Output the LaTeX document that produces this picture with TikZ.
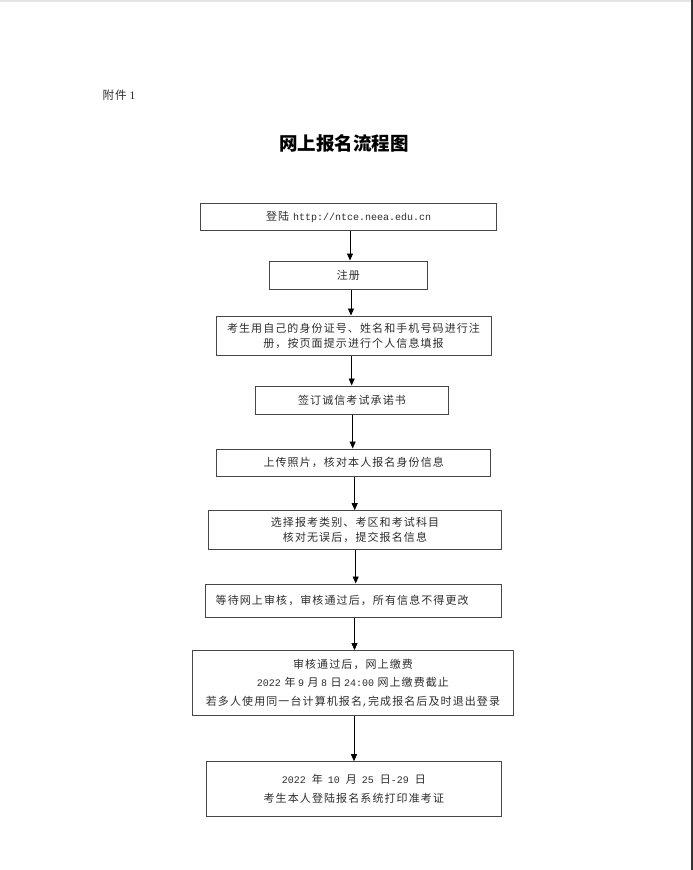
\documentclass[tikz,border=0pt]{standalone}
\usepackage{fontspec}
\setmainfont{Liberation Serif}
\newfontfamily\cjk[LetterSpace=10]{Noto Sans CJK SC}
\newfontfamily\cjkt{Noto Sans CJK SC}
\newfontfamily\lat{Liberation Mono}
\usetikzlibrary{arrows.meta}
\newcommand\zhs[1]{{\cjk #1}}
\newcommand\lts[1]{{\lat\fontsize{10}{12}\selectfont #1}}
\newcommand\gp[1]{\hspace{#1pt}}
\definecolor{boxc}{RGB}{70,70,70}
\definecolor{txt}{RGB}{45,45,45}
\begin{document}
\begin{tikzpicture}[x=1pt,y=-1pt,
  box/.style={draw=boxc, line width=1pt, inner sep=0pt, align=center, text=txt, font=\fontsize{11}{15}\selectfont},
  arr/.style={-{Triangle[width=6pt,length=7pt]}, line width=0.9pt, draw=black}]
\fill[white] (0,0) rectangle (693,870);
\useasboundingbox (0,0) rectangle (693,870);
\fill[black!10] (0,0) rectangle (691,1.5);
\fill[black!80] (691.3,0) rectangle (693,870);

\node[anchor=west, text=txt, font=\fontsize{11.5}{14}\selectfont] (hdr) at (99,95) {\zhs{附件}\gp{3}1};
\node[font=\cjkt\bfseries\fontsize{18.5}{20}\selectfont] (title) at (344,143) {网上报名流程图};

\node[box, minimum width=296pt, minimum height=27pt] (b1) at (348.7,216.5) {\zhs{登陆}\gp{4}\lts{http://ntce.neea.edu.cn}};
\node[box, minimum width=158pt, minimum height=28pt] (b2) at (348.3,275) {\zhs{注册}};
\node[box, minimum width=275pt, minimum height=39pt] (b3) at (353.5,335.5) {\zhs{考生用自己的身份证号、姓名和手机号码进行注}\\\zhs{册，按页面提示进行个人信息填报}};
\node[box, minimum width=193.4pt, minimum height=28pt] (b4) at (352,400) {\zhs{签订诚信考试承诺书}};
\node[box, minimum width=274pt, minimum height=27pt] (b5) at (353.7,462.5) {\zhs{上传照片，核对本人报名身份信息}};
\node[box, minimum width=293.4pt, minimum height=38.6pt] (b6) at (355,530) {\zhs{选择报考类别、考区和考试科目}\\\zhs{核对无误后，提交报名信息}};
\node[box, minimum width=296pt, minimum height=33pt, text width=276pt, align=left] (b7) at (353.7,600.5) {\zhs{等待网上审核，审核通过后，所有信息不得更改}};
\node[box, minimum width=320.6pt, minimum height=64.8pt, font=\fontsize{11}{18.5}\selectfont] (b8) at (353,683) {\zhs{审核通过后，网上缴费}\\\lts{2022}\gp{3.5}\zhs{年}\gp{2.5}\lts{9}\gp{3.5}\zhs{月}\gp{2.5}\lts{8}\gp{3.5}\zhs{日}\gp{2.5}\lts{24:00}\gp{3.5}\zhs{网上缴费截止}\\\zhs{若多人使用同一台计算机报名}\lts{,}\zhs{完成报名后及时退出登录}};
\node[box, minimum width=295.7pt, minimum height=54.3pt, font=\fontsize{11}{19}\selectfont] (b9) at (353.85,788.85) {\lts{2022}\gp{6}\zhs{年}\gp{5}\lts{10}\gp{6}\zhs{月}\gp{5}\lts{25}\gp{6}\zhs{日}\lts{-29}\gp{6}\zhs{日}\\\zhs{考生本人登陆报名系统打印准考证}};

\coordinate (x1) at (350,0);
\coordinate (x2) at (351,0);
\coordinate (x3) at (351.7,0);
\coordinate (x4) at (352.7,0);
\coordinate (x5) at (354.7,0);
\coordinate (x6) at (355.7,0);
\coordinate (x7) at (354.5,0);
\coordinate (x8) at (354,0);
\draw[arr] (b1.south -| x1) -- (b2.north -| x1);
\draw[arr] (b2.south -| x2) -- (b3.north -| x2);
\draw[arr] (b3.south -| x3) -- (b4.north -| x3);
\draw[arr] (b4.south -| x4) -- (b5.north -| x4);
\draw[arr] (b5.south -| x5) -- (b6.north -| x5);
\draw[arr] (b6.south -| x6) -- (b7.north -| x6);
\draw[arr] (b7.south -| x7) -- (b8.north -| x7);
\draw[arr] (b8.south -| x8) -- (b9.north -| x8);
\end{tikzpicture}
\end{document}
